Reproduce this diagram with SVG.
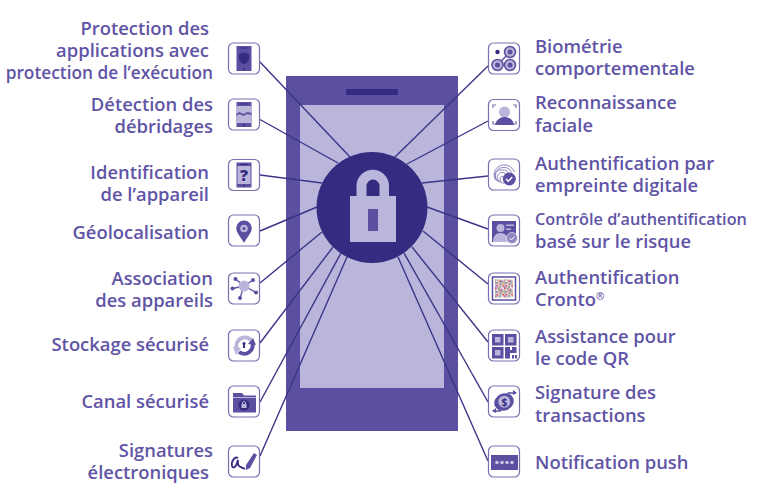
<svg xmlns="http://www.w3.org/2000/svg" width="757" height="492" viewBox="0 0 757 492">
<style>
text{font-family:"Open Sans","Noto Sans","Liberation Sans",sans-serif;font-weight:600;font-size:18.4px;fill:#5f54a6}
.l{text-anchor:end}
.box{fill:#fff;stroke:#7a70b0;stroke-width:1.2}
.d{fill:#5a4fa0}.k{fill:#352c82}.p{fill:#bab5da}
.cn line{stroke:#3d3488;stroke-width:1.4}
</style>
<defs>
<rect id="b" class="box" x="0" y="0" width="31" height="31" rx="5"/>
<g id="ph"><rect class="d" x="8" y="3" width="15" height="25"/><rect class="k" x="12" y="4.500" width="7" height="1"/><rect class="k" x="14.500" y="25.500" width="2" height="1.500"/></g>
<pattern id="noise" width="9" height="9" patternUnits="userSpaceOnUse" x="495" y="279">
<rect width="9" height="9" fill="#d9b8c4"/>
<g fill="#d9626e"><rect x="0" y="0" width="1.500" height="1.500"/><rect x="4.500" y="1.500" width="1.500" height="1.500"/><rect x="7.500" y="6" width="1.500" height="1.500"/><rect x="1.500" y="6" width="1.500" height="1.500"/></g>
<g fill="#7fb98a"><rect x="3" y="0" width="1.500" height="1.500"/><rect x="6" y="3" width="1.500" height="1.500"/><rect x="0" y="3" width="1.500" height="1.500"/><rect x="4.500" y="7.500" width="1.500" height="1.500"/></g>
<g fill="#eeeeee"><rect x="1.500" y="1.500" width="1.500" height="1.500"/><rect x="7.500" y="0" width="1.500" height="1.500"/><rect x="3" y="4.500" width="1.500" height="1.500"/><rect x="6" y="7.500" width="1.500" height="1.500"/></g>
<g fill="#8d86c0"><rect x="6" y="1.500" width="1.500" height="1.500"/><rect x="1.500" y="3" width="1.500" height="1.500"/><rect x="4.500" y="4.500" width="1.500" height="1.500"/><rect x="0" y="7.500" width="1.500" height="1.500"/></g>
<g fill="#e0c46c"><rect x="3" y="3" width="1.500" height="1.500"/><rect x="7.500" y="4.500" width="1.500" height="1.500"/></g>
</pattern>
</defs>
<rect width="757" height="492" fill="#fff"/>
<g id="phone">
<rect class="d" x="286" y="76" width="172" height="355"/>
<rect class="p" x="300" y="105" width="144" height="283"/>
<rect class="k" x="346" y="89" width="52" height="6"/>
</g>
<g id="connectors" class="cn">
<line x1="260" y1="62" x2="350" y2="157"/><line x1="260" y1="119.500" x2="338" y2="163"/><line x1="260" y1="175" x2="322" y2="183"/><line x1="260" y1="231" x2="317" y2="207"/><line x1="260" y1="283" x2="322" y2="232"/><line x1="260" y1="343" x2="333" y2="247"/><line x1="260" y1="402" x2="341" y2="253"/><line x1="260" y1="456" x2="347" y2="257"/>
<line x1="488" y1="66" x2="395" y2="157"/><line x1="488" y1="121" x2="407" y2="164"/><line x1="488" y1="176" x2="422" y2="183"/><line x1="488" y1="229" x2="427" y2="207"/><line x1="488" y1="284" x2="423" y2="231"/><line x1="488" y1="342" x2="412" y2="247"/><line x1="488" y1="402" x2="404" y2="253"/><line x1="488" y1="461" x2="398" y2="257"/>
</g>
<g id="lock">
<circle class="k" cx="372" cy="207.500" r="55.500"/>
<path class="p" d="M350 196V242H396V196H389V186A16 16 0 0 0 356.500 186V196ZM366.500 196V186A6.500 6.500 0 0 1 379.500 186V196Z" fill-rule="evenodd"/>
<rect class="d" x="368" y="209" width="10" height="22"/>
</g>
<g id="n1"><use href="#b" x="228.500" y="43"/><g transform="translate(228.500 43)"><use href="#ph"/><path class="k" d="M15.500 9.500l5 1.500v4.500c0 2.500-2.500 4.500-5 6c-2.500-1.500-5-3.500-5-6v-4.500z"/></g><text class="l" x="209" y="35">Protection des</text><text class="l" x="209" y="57">applications avec</text><text class="l" x="213" y="79" style="font-size:17.300px">protection de l’exécution</text></g>
<g id="n2"><use href="#b" x="228.500" y="99"/><g transform="translate(228.500 99)"><use href="#ph"/><rect class="p" x="8" y="7" width="15" height="17"/><path class="d" d="M8 15l3-2 4 2 4-2 4 1v2l-4-1-4 2-4-2-3 2z"/></g><text class="l" x="213" y="111">Détection des</text><text class="l" x="213" y="133">débridages</text></g>
<g id="n3"><use href="#b" x="228.500" y="159.500"/><g transform="translate(228.500 159.500)"><use href="#ph"/><rect class="p" x="9" y="6.500" width="13" height="18"/></g><text x="244" y="181" text-anchor="middle" style="font-size:16px;font-weight:800;fill:#352c82">?</text><text class="l" x="209" y="179">Identification</text><text class="l" x="209" y="201">de l’appareil</text></g>
<g id="n4"><use href="#b" x="228.500" y="215"/><path class="d" d="M244 220.500a7.800 7.800 0 0 1 7.800 7.800c0 4.500-5 9.500-7.800 14.500c-2.800-5-7.800-10-7.800-14.500a7.800 7.800 0 0 1 7.800-7.800z"/><circle class="p" cx="244" cy="228.500" r="3.800"/><circle class="d" cx="244" cy="228.500" r="1.500"/><text class="l" x="209" y="239">Géolocalisation</text></g>
<g id="n5"><use href="#b" x="228.500" y="273"/><g stroke="#5a4fa0" stroke-width="1.300"><line x1="244" y1="286" x2="235.500" y2="279"/><line x1="244" y1="286" x2="253" y2="280"/><line x1="244" y1="286" x2="232.500" y2="288.500"/><line x1="244" y1="286" x2="256" y2="292.500"/><line x1="244" y1="286" x2="240" y2="298"/></g><circle class="p" cx="244" cy="286" r="5.500"/><g class="d"><circle cx="235.500" cy="279" r="2"/><circle cx="253" cy="280" r="2"/><circle cx="232.500" cy="288.500" r="2"/><circle cx="256" cy="292.500" r="2"/><circle cx="240" cy="298" r="2"/></g><text class="l" x="213" y="285">Association</text><text class="l" x="213" y="307">des appareils</text></g>
<g id="n6"><use href="#b" x="228.500" y="330"/><path d="M237 349a8.500 8.500 0 0 1 14-9" fill="none" stroke="#bab5da" stroke-width="4"/><path class="p" d="M233 347l8 1-5 7z"/><path d="M252 342a8.500 8.500 0 0 1-13 10" fill="none" stroke="#5a4fa0" stroke-width="4"/><path class="d" d="M256 345l-8-1 5-6z"/><circle class="k" cx="244" cy="343.500" r="1.500"/><rect class="k" x="243" y="344" width="2" height="4"/><text class="l" x="209" y="351">Stockage sécurisé</text></g>
<g id="n7"><use href="#b" x="228.500" y="386"/><path class="d" d="M233 393h9l2 2.500h12v17h-23z"/><rect class="p" x="233" y="397" width="23" height="1"/><circle class="k" cx="244" cy="405" r="5.500"/><rect class="p" x="241.500" y="404" width="5" height="4"/><path d="M242.500 404v-1a1.500 1.500 0 0 1 3 0v1" fill="none" stroke="#bab5da"/><text class="l" x="209" y="408">Canal sécurisé</text></g>
<g id="n8"><use href="#b" x="228.500" y="446"/><path d="M238 458c-3-2-7 3-6 8c1 3 4 1 5-3c1-3 1-4 1 1c0 3 3 3 7 5" fill="none" stroke="#352c82" stroke-width="1.800"/><path class="d" d="M254 453l3 2-7 13-4 2 0-5z"/><text class="l" x="213" y="457">Signatures</text><text class="l" x="209" y="479">électroniques</text></g>
<g id="n9"><use href="#b" x="488.500" y="43"/><circle class="k" cx="497.500" cy="52" r="2.200"/><path d="M510 52L497.500 65H510" fill="none" stroke="#5a4fa0" stroke-width="1.500"/><g class="p" stroke="#5a4fa0" stroke-width="1.500"><circle cx="510" cy="52" r="5.500"/><circle cx="497.500" cy="65" r="5.500"/><circle cx="510" cy="65" r="5.500"/></g><g class="d"><circle cx="510" cy="52" r="2.500"/><circle cx="497.500" cy="65" r="2.500"/><circle cx="510" cy="65" r="2.500"/></g><text x="535" y="53">Biométrie</text><text x="535" y="75">comportementale</text></g>
<g id="n10"><use href="#b" x="488.500" y="99.500"/><circle class="p" cx="504.500" cy="112" r="5.500"/><path class="d" d="M495 125c1-5 5-8 9.500-8s9 3 9.500 8z"/><path d="M493 108v-3h3M516 108v-3h-3M493 121v3h3M516 121v3h-3" fill="none" stroke="#7a70b0" stroke-width="1.200"/><text x="535" y="109">Reconnaissance</text><text x="535" y="132">faciale</text></g>
<g id="n11"><use href="#b" x="488.500" y="159"/><g fill="none" stroke="#8d86c0" stroke-width="1"><path d="M495.500 180a10 10 0 0 1 7-15a11 11 0 0 1 12 7"/><path d="M497.500 181a8 8 0 0 1 5-13.500a8.500 8.500 0 0 1 9 5"/><path d="M499.500 182a6 6 0 0 1 3-12a6 6 0 0 1 6 3"/><path d="M501.500 182a4 4 0 0 1 1-9.500a3.500 3.500 0 0 1 3.500 2"/><path d="M504 183a2 2 0 0 1-1-7"/></g><circle class="d" cx="509.300" cy="179" r="6.500"/><path d="M506 179l2.300 2.300 4-4.300" fill="none" stroke="#fff" stroke-width="1.400"/><text x="535" y="170">Authentification par</text><text x="535" y="192">empreinte digitale</text></g>
<g id="n12"><use href="#b" x="488.500" y="215"/><rect class="d" x="492" y="221" width="24" height="21"/><circle class="p" cx="500.500" cy="228" r="4"/><path class="p" d="M493 242c0-6 3-9 7.500-9s7.500 3 7.500 9z"/><rect class="p" x="506" y="224.500" width="8" height="1.500"/><rect class="p" x="506" y="228.500" width="5" height="1.500"/><circle fill="#8d86c0" stroke="#fff" stroke-width=".6" cx="512" cy="238" r="5.500"/><path d="M509.500 238l2 2 3-3.500" fill="none" stroke="#fff"/><text x="535" y="225" style="font-size:16.300px">Contrôle d’authentification</text><text x="535" y="248">basé sur le risque</text></g>
<g id="n13"><use href="#b" x="488.500" y="273"/><rect x="492.500" y="277" width="23" height="23" fill="#fff" stroke="#5a4fa0" stroke-width="1.500"/><rect x="495" y="279.500" width="18" height="18" fill="url(#noise)"/><text x="535" y="284">Authentification</text><text x="535" y="306">Cronto<tspan dy="-6" style="font-size:10px">®</tspan></text></g>
<g id="n14"><use href="#b" x="488.500" y="330"/><g class="d"><rect x="492" y="334" width="11.500" height="11.500"/><rect x="505" y="334" width="11.500" height="11.500"/><rect x="492" y="347" width="11.500" height="11.500"/><path d="M505 347h5v3h2v-3h4.500v6h-6.500v5.500h-5z"/><rect x="512" y="355" width="2" height="3.500"/><rect x="515" y="355" width="2" height="3.500"/></g><g class="p"><rect x="495" y="337" width="5.500" height="5.500"/><rect x="508" y="337" width="5.500" height="5.500"/><rect x="495" y="350" width="5.500" height="5.500"/></g><text x="535" y="343">Assistance pour</text><text x="535" y="365">le code QR</text></g>
<g id="n15"><use href="#b" x="488.500" y="386"/><ellipse class="d" cx="504" cy="402" rx="10" ry="8.500" transform="rotate(-25 504 402)"/><circle class="p" cx="504.300" cy="401.700" r="6"/><text x="504.300" y="405.500" text-anchor="middle" style="font-size:10px;font-weight:700;fill:#352c82">$</text><path d="M493 411l8 0M515.500 393l-8 0" fill="none" stroke="#5a4fa0" stroke-width="1.300"/><path class="d" d="M492 411l4-3v5zM517 393l-4-3v5z"/><text x="535" y="399">Signature des</text><text x="535" y="422">transactions</text></g>
<g id="n16"><use href="#b" x="488.500" y="446"/><rect class="d" x="491" y="455" width="27" height="15"/><g fill="#c9c5e3"><circle cx="497" cy="462.500" r="1.800"/><circle cx="502" cy="462.500" r="1.800"/><circle cx="507" cy="462.500" r="1.800"/><circle cx="512" cy="462.500" r="1.800"/></g><text x="535" y="469">Notification push</text></g>
</svg>
